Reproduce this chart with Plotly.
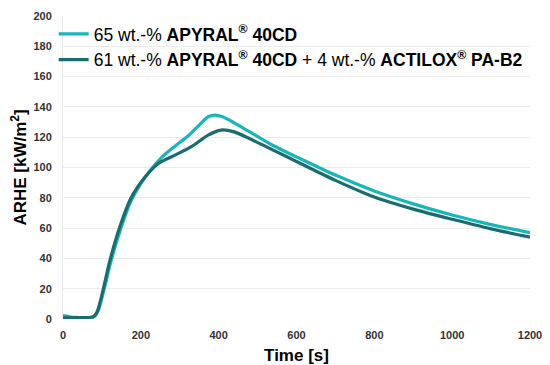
import plotly.graph_objects as go

time_light = [0, 10, 20, 40, 60, 70, 78, 85, 92, 100, 110, 120, 145, 175, 212, 240, 261, 290, 322, 350, 373, 390, 410, 440, 480, 540, 600, 700, 800, 900, 1000, 1100, 1200]
arhe_light = [2, 2, 1.2, 1, 1, 1, 1.3, 2.8, 6.5, 14, 24, 35, 57, 78, 94, 103, 108.5, 114.5, 121, 128, 133.5, 134.6, 133.5, 129.5, 123.5, 114.5, 107, 95, 84.5, 76, 68.6, 62.3, 57]

time_dark = [0, 10, 20, 40, 60, 70, 78, 85, 92, 100, 110, 120, 145, 175, 212, 246, 288, 330, 373, 406, 440, 480, 540, 600, 700, 800, 900, 1000, 1100, 1200]
arhe_dark = [1, 1, 1, 1, 1, 1, 1.5, 3.5, 8, 16, 27, 38, 60, 80, 94, 102.8, 108.2, 113.7, 121.4, 124.7, 123.5, 119, 111.5, 104, 91.5, 80.5, 72.5, 65.8, 59.5, 54]

name_light = "65 wt.-% <b>APYRAL<sup>®</sup> 40CD</b>"
name_dark = "61 wt.-% <b>APYRAL<sup>®</sup> 40CD</b> + 4 wt.-% <b>ACTILOX<sup>®</sup> PA-B2</b>"

x_ticks = [0, 200, 400, 600, 800, 1000, 1200]
y_ticks = [0, 20, 40, 60, 80, 100, 120, 140, 160, 180, 200]

fig = go.Figure()
fig.add_trace(go.Scatter(x=time_light, y=arhe_light, mode="lines", name=name_light,
                         line=dict(color="#17B6B8", width=3.2, shape="spline", smoothing=0.8)))
fig.add_trace(go.Scatter(x=time_dark, y=arhe_dark, mode="lines", name=name_dark,
                         line=dict(color="#1B6D6D", width=3.2, shape="spline", smoothing=0.8)))

tickfont = dict(size=11, color="#333333", family="Liberation Sans, Arial", weight="bold")

# page body adds an 8px margin, so the figure is kept smaller and offset accordingly
fig.update_layout(
    width=534, height=357,
    margin=dict(l=55, r=12, t=8, b=46),
    paper_bgcolor="white", plot_bgcolor="white",
    font=dict(family="Liberation Sans, Arial, sans-serif", color="#000000"),
    legend=dict(x=-0.02, y=1.0, xanchor="left", yanchor="top",
                font=dict(size=17.5, color="#000000"), bgcolor="rgba(0,0,0,0)",
                itemwidth=30),
    xaxis=dict(range=[0, 1200], tickvals=x_ticks, ticktext=[str(v) for v in x_ticks],
               showgrid=False, zeroline=False, showline=False, automargin=False,
               tickfont=tickfont, ticklabelstandoff=8, ticklabeloverflow="allow",
               title=dict(text="<b>Time [s]</b>", font=dict(size=17, color="#000000"), standoff=10)),
    yaxis=dict(range=[0, 200], tickvals=y_ticks, ticktext=[str(v) for v in y_ticks],
               showgrid=True, gridcolor="#EBEBEB", gridwidth=1, zeroline=False,
               showline=True, linecolor="#EBEBEB", linewidth=1, automargin=False,
               tickfont=tickfont, ticklabelstandoff=8,
               title=dict(text="<b>ARHE [kW/m<sup>2</sup>]</b>", font=dict(size=17, color="#000000"), standoff=7)),
)

fig.write_html("out.html")
